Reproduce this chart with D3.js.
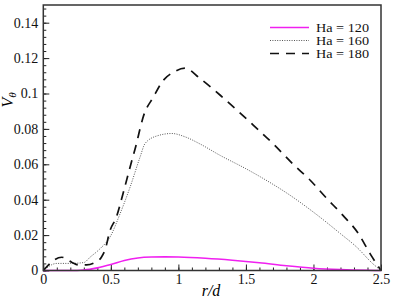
<!DOCTYPE html>
<html>
<head>
<meta charset="utf-8">
<script src="https://cdn.jsdelivr.net/npm/d3@7"></script>
<style>
  html, body { margin: 0; padding: 0; background: #fff; }
  svg { display: block; }
  .axis path { display: none; }
  .axis line { stroke: #222; stroke-width: 1; }
</style>
</head>
<body>
<div id="chart"></div>
<script>
// values
const xTicks = [0, 0.5, 1, 1.5, 2, 2.5];
const yTicks = [0, 0.02, 0.04, 0.06, 0.08, 0.1, 0.12, 0.14];

const rHa120 = [0, 0.2, 0.3, 0.4, 0.5, 0.6, 0.7, 0.8, 0.9, 1.0, 1.2, 1.4, 1.6, 1.8, 2.0, 2.2, 2.4, 2.5];
const vHa120 = [0, 0, 0.0003, 0.0015, 0.0034, 0.0057, 0.0071, 0.0076, 0.0077, 0.0076, 0.0069, 0.0058, 0.0044, 0.0027, 0.0013, 0.0005, 0.0001, 0];

const rHa160 = [0, 0.1, 0.2, 0.3, 0.346, 0.42, 0.494, 0.568, 0.642, 0.716, 0.753, 0.84, 0.951, 1.05, 1.16, 1.31, 1.5, 1.605, 1.827, 2.025, 2.2, 2.32, 2.44, 2.5];
const vHa160 = [0, 0.004, 0.004, 0.0045, 0.0075, 0.0123, 0.0189, 0.032, 0.047, 0.064, 0.0717, 0.076, 0.0774, 0.0755, 0.0715, 0.065, 0.0575, 0.053, 0.0425, 0.0315, 0.0208, 0.0132, 0.0038, 0];

const rHa180 = [0, 0.136, 0.21, 0.26, 0.32, 0.38, 0.43, 0.457, 0.494, 0.54, 0.59, 0.655, 0.69, 0.716, 0.74, 0.815, 0.889, 0.963, 1.05, 1.16, 1.333, 1.556, 1.70, 1.85, 1.976, 2.10, 2.22, 2.333, 2.42, 2.5];
const vHa180 = [0, 0.0075, 0.0047, 0.0032, 0.0032, 0.0045, 0.0075, 0.0116, 0.0226, 0.030, 0.0434, 0.062, 0.0717, 0.080, 0.0868, 0.098, 0.1075, 0.112, 0.1143, 0.1085, 0.0975, 0.082, 0.0717, 0.060, 0.051, 0.0406, 0.031, 0.0208, 0.0094, 0];

const seriesNames = ['Ha = 120', 'Ha = 160', 'Ha = 180'];

const series = [
  {name: seriesNames[0], r: rHa120, v: vHa120, color: '#f020f0', width: 1.6, dash: null},
  {name: seriesNames[1], r: rHa160, v: vHa160, color: '#555', width: 1, dash: '1,1.4'},
  {name: seriesNames[2], r: rHa180, v: vHa180, color: '#111', width: 1.7, dash: '9,7'}
];

const FONT = '"Liberation Serif", "Times New Roman", Times, "DejaVu Serif", serif';
const W = 394, H = 299;
const plot = {left: 43.3, right: 381, top: 5, bottom: 270.5};

const svg = d3.select('#chart').append('svg').attr('width', W).attr('height', H)
  .attr('font-family', FONT);

const x = d3.scaleLinear().domain([0, 2.5]).range([plot.left, plot.right]);
const y = d3.scaleLinear().domain([0, 0.15]).range([plot.bottom, plot.top]);

// minor ticks first, major on top
const xMinor = d3.range(0, 2.5001, 0.1).map(d => +d.toFixed(2));
const yMinor = d3.range(0, 0.1501, 0.004).map(d => +d.toFixed(3));

svg.append('g').attr('class', 'axis')
  .attr('transform', `translate(0,${plot.bottom})`)
  .call(d3.axisBottom(x).tickValues(xMinor).tickFormat('').tickSizeInner(-3).tickSizeOuter(0));
svg.append('g').attr('class', 'axis')
  .attr('transform', `translate(${plot.left},0)`)
  .call(d3.axisLeft(y).tickValues(yMinor).tickFormat('').tickSizeInner(-3).tickSizeOuter(0));

const xAxisG = svg.append('g').attr('class', 'axis')
  .attr('transform', `translate(0,${plot.bottom})`)
  .call(d3.axisBottom(x).tickValues(xTicks).tickFormat(d => String(d)).tickSizeInner(-6).tickSizeOuter(0).tickPadding(4));
const yAxisG = svg.append('g').attr('class', 'axis')
  .attr('transform', `translate(${plot.left},0)`)
  .call(d3.axisLeft(y).tickValues(yTicks).tickFormat(d => String(d)).tickSizeInner(-6).tickSizeOuter(0).tickPadding(5));

// d3 puts sans-serif on the axis groups, put the serif back
[xAxisG, yAxisG].forEach(g => g.attr('font-family', FONT).attr('font-size', 14)
  .selectAll('text').attr('fill', '#111'));

// curves
const line = d3.line()
  .x(d => x(d[0]))
  .y(d => y(d[1]))
  .curve(d3.curveMonotoneX);

series.forEach(s => {
  const pts = s.r.map((r, i) => [r, s.v[i]]);
  svg.append('path')
    .datum(pts)
    .attr('fill', 'none')
    .attr('stroke', s.color)
    .attr('stroke-width', s.width)
    .attr('stroke-dasharray', s.dash)
    .attr('d', line);
});

// frame
svg.append('rect')
  .attr('x', plot.left).attr('y', plot.top)
  .attr('width', plot.right - plot.left).attr('height', plot.bottom - plot.top)
  .attr('fill', 'none').attr('stroke', '#333').attr('stroke-width', 1.5);

// legend
const legend = svg.append('g').attr('transform', 'translate(270,27.5)');
series.forEach((s, i) => {
  const g = legend.append('g').attr('transform', `translate(0,${i * 13})`);
  g.append('line')
    .attr('x1', 0).attr('x2', 39).attr('y1', 0).attr('y2', 0)
    .attr('stroke', s.color).attr('stroke-width', s.width)
    .attr('stroke-dasharray', s.dash);
  g.append('text')
    .attr('x', 46).attr('y', 4.5)
    .attr('font-size', 12)
    .attr('textLength', 53)
    .attr('lengthAdjust', 'spacingAndGlyphs')
    .attr('fill', '#111')
    .text(s.name);
});

// axis titles
svg.append('text')
  .attr('x', 211).attr('y', 296)
  .attr('text-anchor', 'middle')
  .attr('font-style', 'italic').attr('font-size', 16)
  .text('r/d');

const yl = svg.append('text')
  .attr('transform', 'translate(13,100) rotate(-90)')
  .attr('text-anchor', 'middle')
  .attr('font-style', 'italic').attr('font-size', 16);
yl.append('tspan').text('V');
yl.append('tspan').attr('dy', 3).attr('font-size', 11).text('θ');
</script>
</body>
</html>
